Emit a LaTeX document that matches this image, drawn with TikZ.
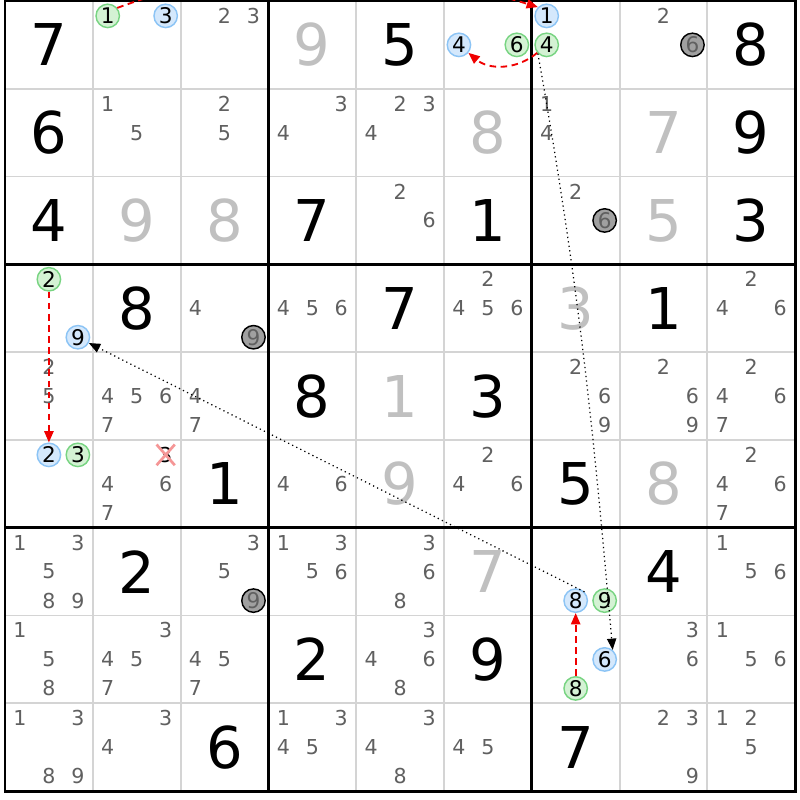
\documentclass[tikz,border=0pt]{standalone}
\usepackage{fontspec}
\setmainfont{DejaVu Sans}
\usetikzlibrary{arrows.meta,shapes.misc}

\definecolor{candgrey}{RGB}{96,96,96}
\definecolor{solvedgrey}{RGB}{192,192,192}
\definecolor{thingrid}{RGB}{212,212,212}
\definecolor{greenfill}{RGB}{212,242,212}
\definecolor{greenline}{RGB}{120,212,130}
\definecolor{bluefill}{RGB}{212,232,252}
\definecolor{blueline}{RGB}{140,196,245}
\definecolor{elimfill}{RGB}{160,160,160}
\definecolor{linkred}{RGB}{240,0,0}
\definecolor{crossred}{RGB}{245,150,150}

\tikzset{
	given/.style={font=\fontsize{28}{30}\selectfont,text=black},
	solved/.style={font=\fontsize{28}{30}\selectfont,text=solvedgrey},
	cand/.style={font=\fontsize{10}{11}\selectfont,text=candgrey,inner sep=0.6pt},
	ring/.style={circle,draw,line width=0.7pt,minimum size=0.4cm,inner sep=0pt,font=\fontsize{10.5}{11}\selectfont,text=black},
	candon/.style={ring,draw=greenline,fill=greenfill},
	candoff/.style={ring,draw=blueline,fill=bluefill},
	candelim/.style={ring,draw=black,fill=elimfill,text=candgrey},
	strong/.style={draw=linkred,line width=0.9pt,dash pattern=on 3.2pt off 2.2pt,-{Triangle[length=5.5pt,width=4.5pt]}},
	weak/.style={draw=black,line width=0.6pt,dash pattern=on 0.6pt off 1.6pt,-{Triangle[length=5.5pt,width=4.5pt]}},
	crossmark/.style={cross out,draw=crossred,line width=1.3pt,text=black}
}

\begin{document}
\begin{tikzpicture}[x=1.5cm,y=1.5cm]
	\useasboundingbox (-0.057,-0.100) rectangle (9.055,9.011);
	\clip (-0.057,-0.100) rectangle (9.055,9.011);
	\fill[white] (-0.057,-0.100) rectangle (9.055,9.011);
	\foreach \i in {1,2,4,5,7,8} {
		\draw[thingrid,line width=0.9pt] (\i,0) -- (\i,9);
		\draw[thingrid,line width=0.9pt] (0,\i) -- (9,\i);
	}
	\foreach \i in {0,3,6,9} {
		\draw[black,line width=1.4pt] (\i,0) -- (\i,9);
		\draw[black,line width=1.4pt] (0,\i) -- (9,\i);
	}
	\draw[black,line width=1.4pt] (0,0) rectangle (9,9);
	\foreach \r/\c/\d in {1/1/7,1/5/5,1/9/8,2/1/6,2/9/9,3/1/4,3/4/7,3/6/1,3/9/3,4/2/8,4/5/7,4/8/1,5/4/8,5/6/3,6/3/1,6/7/5,7/2/2,7/8/4,8/4/2,8/6/9,9/3/6,9/7/7}
		\node[given] (g\r\c) at (\c-0.5,9.5-\r) {\d};
	\foreach \r/\c/\d in {1/4/9,2/6/8,2/8/7,3/2/9,3/3/8,3/8/5,4/7/3,5/5/1,6/5/9,6/8/8,7/6/7}
		\node[solved] (g\r\c) at (\c-0.5,9.5-\r) {\d};
	\foreach \r/\c/\ds in {1/3/{2,3},1/8/{2},2/2/{1,5},2/3/{2,5},2/4/{3,4},2/5/{2,3,4},2/7/{1,4},3/5/{2,6},3/7/{2},
		4/3/{4},4/4/{4,5,6},4/6/{2,4,5,6},4/9/{2,4,6},5/1/{2,5},5/2/{4,5,6,7},5/3/{4,7},5/7/{2,6,9},5/8/{2,6,9},5/9/{2,4,6,7},
		6/2/{4,6,7},6/4/{4,6},6/6/{2,4,6},6/9/{2,4,6,7},7/1/{1,3,5,8,9},7/3/{3,5},7/4/{1,3,5,6},7/5/{3,6,8},7/9/{1,5,6},
		8/1/{1,5,8},8/2/{3,4,5,7},8/3/{4,5,7},8/5/{3,4,6,8},8/8/{3,6},8/9/{1,5,6},
		9/1/{1,3,8,9},9/2/{3,4},9/4/{1,3,4,5},9/5/{3,4,8},9/6/{4,5},9/8/{2,3,9},9/9/{1,2,5}}
		\foreach \d in \ds {
			\pgfmathsetmacro\cx{\c-0.83+0.33*mod(\d-1,3)}
			\pgfmathsetmacro\cy{9.83-\r-0.33*floor((\d-1)/3)}
			\node[cand] (n\r\c\d) at (\cx,\cy) {\d};
		}
	\node[cand,crossmark] (n623) at (1.83,3.83) {3};
	\foreach \r/\c/\d/\kind in {1/2/1/candon,1/2/3/candoff,1/6/4/candoff,1/6/6/candon,1/7/1/candoff,1/7/4/candon,1/8/6/candelim,
		3/7/6/candelim,4/1/2/candon,4/1/9/candoff,4/3/9/candelim,6/1/2/candoff,6/1/3/candon,7/3/9/candelim,
		7/7/8/candoff,7/7/9/candon,8/7/6/candoff,8/7/8/candon} {
			\pgfmathsetmacro\cx{\c-0.83+0.33*mod(\d-1,3)}
			\pgfmathsetmacro\cy{9.83-\r-0.33*floor((\d-1)/3)}
			\node[\kind] (n\r\c\d) at (\cx,\cy) {\d};
		}
	\draw[strong] (n121.40) to[out=20,in=163] (n171.135);
	\draw[strong] (n174) to[bend left=40] (n164);
	\draw[weak] (n174.225) to[out=-80,in=95] (n876.50);
	\draw[weak] (n778.45) -- (n419.-28);
	\draw[strong] (n412) -- (n612);
	\draw[strong] (n878) -- (n778);
\end{tikzpicture}
\end{document}
